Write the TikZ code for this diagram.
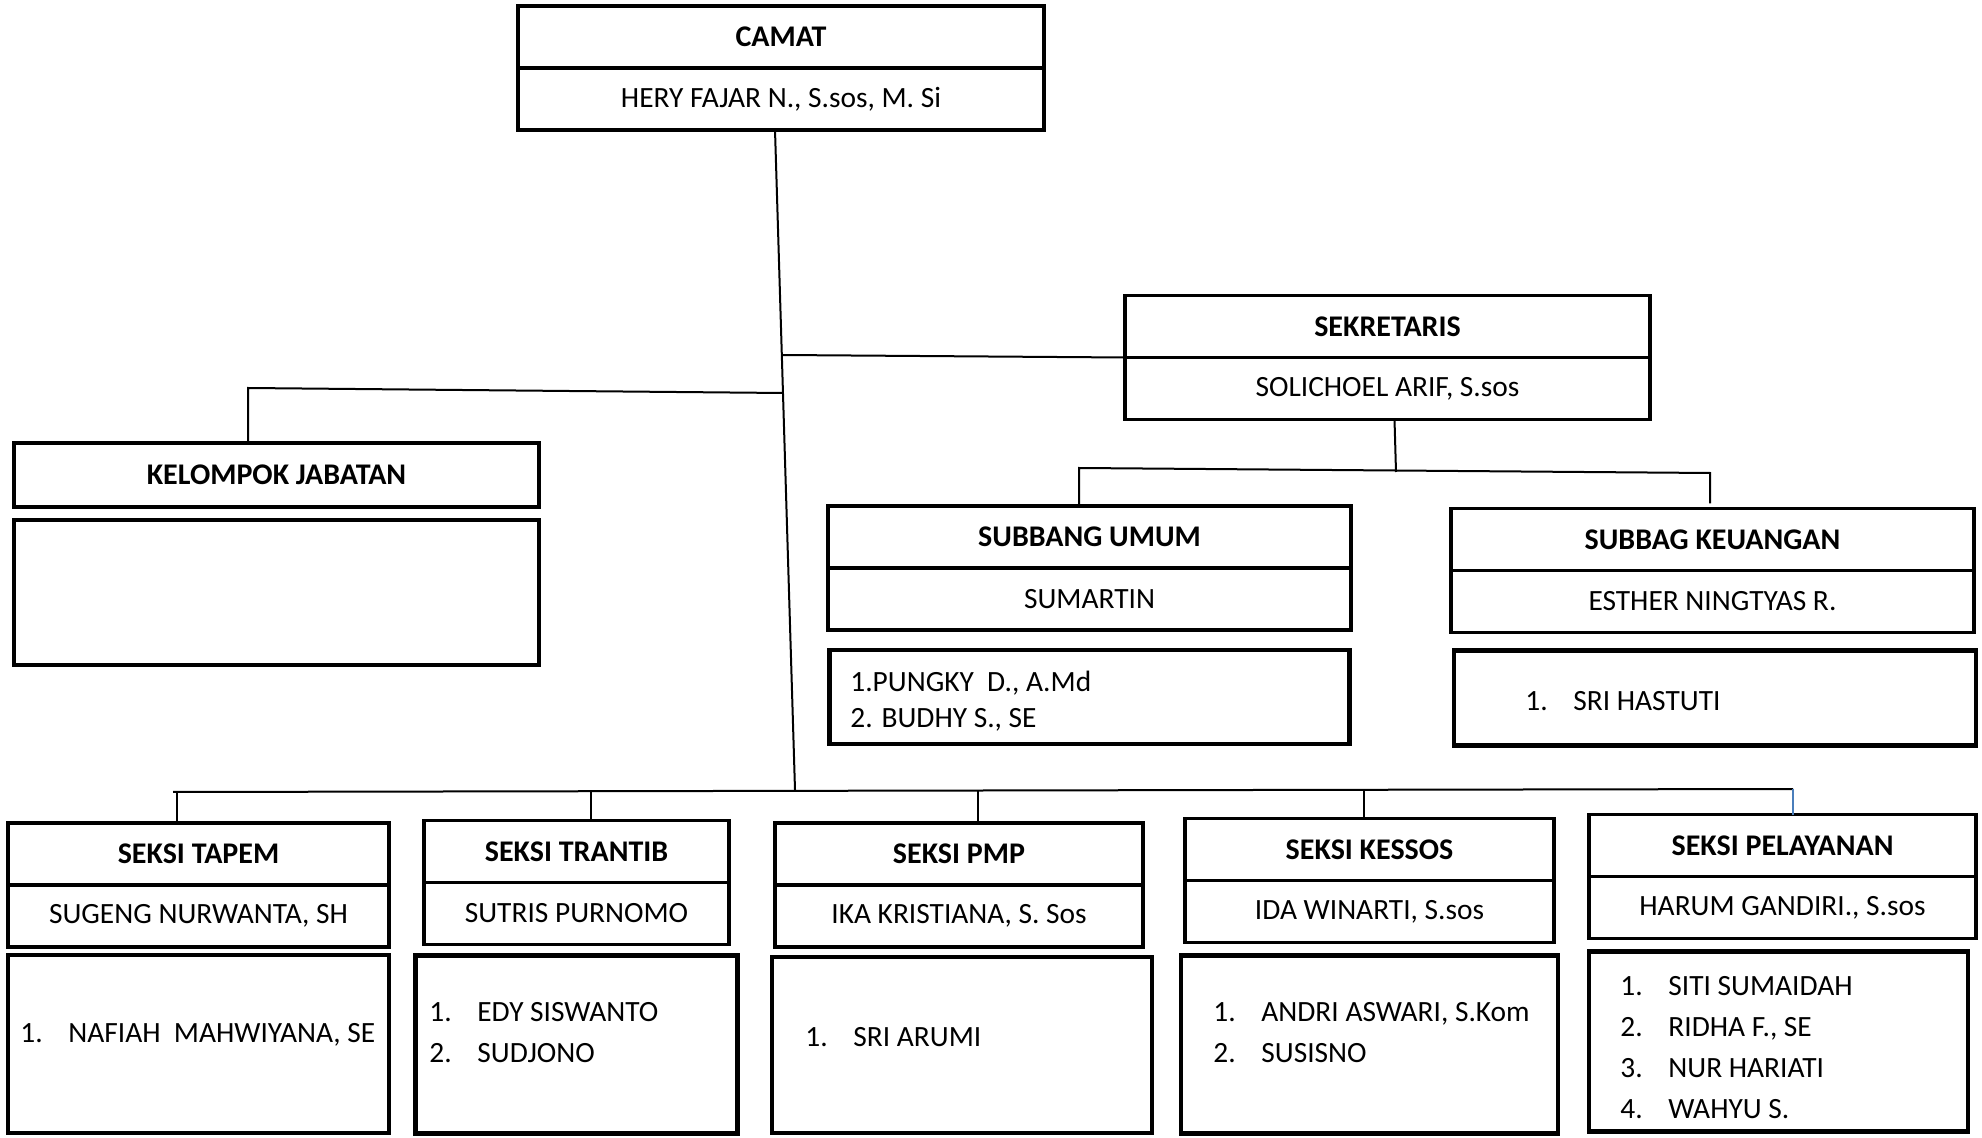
\documentclass[tikz,border=0pt]{standalone}
\usepackage{fontspec}
\setmainfont{Carlito}
\usetikzlibrary{positioning}
\definecolor{orgLine}{HTML}{000000}
\definecolor{orgBlue}{HTML}{4A7EBB}
\newcommand{\nomor}[1]{\makebox[24pt][l]{#1}}

\begin{document}
\begin{tikzpicture}[x=0.5pt, y=-0.5pt, font=\fontsize{14.7}{20.5}\selectfont,
        jab/.style={draw=orgLine, line width=1.8pt, rectangle, minimum height=31pt, outer sep=0pt, inner sep=0pt, align=center, font=\fontsize{15}{18}\selectfont\bfseries},
        nama/.style={draw=orgLine, line width=1.8pt, rectangle, minimum height=31pt, outer sep=0pt, inner sep=0pt, align=center},
        staf/.style={draw=orgLine, line width=2.3pt, rectangle, outer sep=0pt, inner sep=0pt},
        daftar/.style={anchor=west, align=left, inner sep=0pt},
        link/.style={orgLine, line width=1pt}]
        \useasboundingbox (0,0) rectangle (1982,1138);
        % pimpinan
        \node[jab, minimum width=263pt] (camat) at (781,37) {CAMAT};
        \node[nama, minimum width=263pt, below=0pt of camat] (camatnm) {HERY FAJAR N., S.sos, M. Si};
        \node[jab, minimum width=262.5pt] (sekr) at (1387.5,326.5) {SEKRETARIS};
        \node[nama, minimum width=262.5pt, below=0pt of sekr] (sekrnm) {SOLICHOEL ARIF, S.sos};
        \node[jab, minimum width=262.5pt, minimum height=32pt] (kel) at (276.5,475) {KELOMPOK JABATAN};
        \node[staf, minimum width=262.5pt, minimum height=72.5pt, below=6.5pt of kel] (kelstaf) {};
        % subbagian
        \node[jab, minimum width=261.5pt] (umum) at (1089.5,537) {SUBBANG UMUM};
        \node[nama, minimum width=261.5pt, below=0pt of umum] (umumnm) {SUMARTIN};
        \node[staf, minimum width=260pt, minimum height=47pt, below=10pt of umumnm] (umumstaf) {};
        \node[daftar, font=\fontsize{14.7}{18}\selectfont] (umumls) at (850,701) {1.PUNGKY\ \ D., A.Md\\2. BUDHY S., SE};
        \node[jab, minimum width=261.5pt] (keu) at (1712.5,539.5) {SUBBAG KEUANGAN};
        \node[nama, minimum width=261.5pt, below=0pt of keu] (keunm) {ESTHER NINGTYAS R.};
        \node[staf, minimum width=261pt, minimum height=47.5pt, below=9pt of keunm, xshift=1.25pt] (keustaf) {};
        \node[daftar] (keuls) at (1525,701) {\nomor{1.}SRI HASTUTI};
        % seksi
        \node[jab, minimum width=190.5pt] (tapem) at (198.5,854) {SEKSI TAPEM};
        \node[nama, minimum width=190.5pt, below=0pt of tapem] (tapemnm) {SUGENG NURWANTA, SH};
        \node[staf, minimum width=190.5pt, minimum height=89pt, below=4pt of tapemnm] (tapemstaf) {};
        \node[daftar] (tapemls) at (20,1035) {\nomor{1.}NAFIAH\ \ MAHWIYANA, SE};
        \node[jab, minimum width=152.5pt] (trantib) at (576.5,851.5) {SEKSI TRANTIB};
        \node[nama, minimum width=152.5pt, below=0pt of trantib] (trantibnm) {SUTRIS PURNOMO};
        \node[staf, minimum width=161pt, minimum height=89pt, below=5.5pt of trantibnm] (trantibstaf) {};
        \node[daftar] (trantibls) at (429,1033) {\nomor{1.}EDY SISWANTO\\\nomor{2.}SUDJONO};
        \node[jab, minimum width=184pt] (pmp) at (959,854) {SEKSI PMP};
        \node[nama, minimum width=184pt, below=0pt of pmp] (pmpnm) {IKA KRISTIANA, S. Sos};
        \node[staf, minimum width=190pt, minimum height=88pt, below=5pt of pmpnm, xshift=1.5pt] (pmpstaf) {};
        \node[daftar] (pmpls) at (805,1037) {\nomor{1.}SRI ARUMI};
        \node[jab, minimum width=184.5pt] (kessos) at (1369.5,849.5) {SEKSI KESSOS};
        \node[nama, minimum width=184.5pt, below=0pt of kessos] (kessosnm) {IDA WINARTI, S.sos};
        \node[staf, minimum width=188.5pt, minimum height=89pt, below=6.5pt of kessosnm] (kessosstaf) {};
        \node[daftar] (kessosls) at (1213,1033) {\nomor{1.}ANDRI ASWARI, S.Kom\\\nomor{2.}SUSISNO};
        \node[jab, minimum width=193.5pt] (pel) at (1782.5,845.5) {SEKSI PELAYANAN};
        \node[nama, minimum width=193.5pt, below=0pt of pel] (pelnm) {HARUM GANDIRI., S.sos};
        \node[staf, minimum width=189.5pt, minimum height=90pt, below=6.5pt of pelnm, xshift=-2pt] (pelstaf) {};
        \node[daftar] (pells) at (1620,1048) {\nomor{1.}SITI SUMAIDAH\\\nomor{2.}RIDHA F., SE\\\nomor{3.}NUR HARIATI\\\nomor{4.}WAHYU S.};
        % garis
        \coordinate (trunk) at (795,790);
        \draw[link] ([xshift=-3pt]camatnm.south) -- (trunk);
        \coordinate (sekj) at (782,355);
        \draw[link] (sekj) -- (sekr.south west);
        \coordinate (kelj) at (783,393);
        \coordinate (kelc) at (248,388);
        \draw[link] (kelj) -- (kelc) -- (kelc |- kel.north);
        \coordinate (subj) at (1396,472);
        \draw[link] ([xshift=3.5pt]sekrnm.south) -- (subj);
        \coordinate (umumc) at (1079,468);
        \coordinate (keuc) at (1710,473);
        \draw[link] (umumc |- umum.north) -- (umumc) -- (keuc) -- ([yshift=2.5pt]keuc |- keu.north);
        \coordinate (busl) at (173,792);
        \coordinate (busr) at (1793,789);
        \draw[link] (busl) -- (busr);
        \coordinate (dtapem) at (177,792);
        \draw[link] (dtapem) -- (dtapem |- tapem.north);
        \coordinate (dtrantib) at (591,791);
        \draw[link] (dtrantib) -- (dtrantib |- trantib.north);
        \coordinate (dpmp) at (978,790);
        \draw[link] (dpmp) -- (dpmp |- pmp.north);
        \coordinate (dkessos) at (1364,790);
        \draw[link] (dkessos) -- (dkessos |- kessos.north);
        \draw[orgBlue, line width=1pt] (busr) -- (busr |- pel.north);
      \end{tikzpicture}
\end{document}
